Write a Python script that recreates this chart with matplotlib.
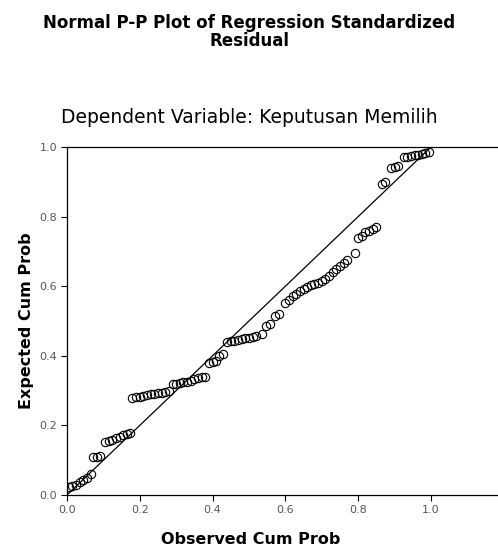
import matplotlib.pyplot as plt
import numpy as np

# observed vs expected cumulative probabilities
observed = [0.005, 0.015, 0.025, 0.035, 0.045, 0.055, 0.065,
            0.072, 0.082, 0.092,
            0.105, 0.115, 0.125, 0.135, 0.145, 0.155, 0.165, 0.172,
            0.18, 0.19, 0.20, 0.21, 0.22, 0.23, 0.24, 0.25, 0.26, 0.27, 0.28,
            0.29, 0.30, 0.31, 0.32, 0.33, 0.34,
            0.35, 0.36, 0.37, 0.38,
            0.39, 0.40, 0.41, 0.418, 0.428,
            0.44, 0.45, 0.46, 0.47, 0.48, 0.49, 0.50, 0.51, 0.52, 0.535,
            0.548, 0.558, 0.572, 0.582,
            0.60, 0.61, 0.62, 0.63, 0.64, 0.65, 0.66, 0.67, 0.68, 0.69,
            0.70, 0.71, 0.72, 0.73, 0.74, 0.75, 0.76, 0.77,
            0.79,
            0.80, 0.81, 0.82, 0.83, 0.84, 0.85,
            0.865, 0.875,
            0.89, 0.90, 0.91,
            0.925, 0.935, 0.945, 0.955, 0.965, 0.975, 0.985, 0.995]
expected = [0.022, 0.026, 0.030, 0.038, 0.044, 0.050, 0.060,
            0.108, 0.110, 0.111,
            0.153, 0.155, 0.157, 0.163, 0.168, 0.172, 0.176, 0.178,
            0.278, 0.281, 0.283, 0.285, 0.287, 0.289, 0.290, 0.292, 0.294, 0.296, 0.298,
            0.318, 0.320, 0.322, 0.324, 0.326, 0.328,
            0.334, 0.336, 0.338, 0.340,
            0.380, 0.382, 0.385, 0.400, 0.405,
            0.440, 0.442, 0.444, 0.446, 0.448, 0.450, 0.452, 0.455, 0.458, 0.462,
            0.485, 0.490, 0.515, 0.520,
            0.553, 0.560, 0.572, 0.578, 0.585, 0.592, 0.598, 0.603, 0.607, 0.610,
            0.615, 0.620, 0.628, 0.640, 0.650, 0.658, 0.668, 0.676,
            0.695,
            0.740, 0.745, 0.755, 0.760, 0.765, 0.770,
            0.895, 0.900,
            0.940, 0.942, 0.945,
            0.970, 0.972, 0.974, 0.976, 0.978, 0.980, 0.983, 0.986]
ref_line = [0.0, 1.0]
ticks = [0.0, 0.2, 0.4, 0.6, 0.8, 1.0]

plt.rcParams['font.family'] = ['DejaVu Sans']

fig = plt.figure(figsize=(4.98, 5.48), dpi=100)
ax = fig.add_axes([0.1345, 0.0967, 0.877, 0.635])

ax.plot(ref_line, ref_line, color='black', lw=0.9)
ax.plot(observed, expected, 'o', mfc='none', mec='black', ms=6, mew=0.8)

ax.set_xlim(0, 1.2)
ax.set_ylim(0, 1.0)
ax.set_xticks(ticks)
ax.set_yticks(ticks)
ax.set_xticklabels([f'{t:.1f}' for t in ticks])
ax.set_yticklabels([f'{t:.1f}' for t in ticks])
ax.tick_params(direction='out', length=4, width=0.8, labelsize=8,
               labelcolor='#555555', pad=3)
for s in ['left', 'bottom', 'top']:
    ax.spines[s].set_linewidth(0.9)
ax.spines['right'].set_visible(False)

ax.set_xlabel('Observed Cum Prob', fontsize=11.5, fontweight='bold', labelpad=12)
ax.xaxis.set_label_coords(0.42, -0.105)
ax.set_ylabel('Expected Cum Prob', fontsize=11.5, fontweight='bold', labelpad=4)

fig.text(0.5, 0.942, 'Normal P-P Plot of Regression Standardized\nResidual',
         ha='center', va='center', fontsize=12, fontweight='bold', linespacing=1.0)
fig.text(0.5, 0.786, 'Dependent Variable: Keputusan Memilih',
         ha='center', va='center', fontsize=13.5)

fig.savefig('out.png', dpi=100)
